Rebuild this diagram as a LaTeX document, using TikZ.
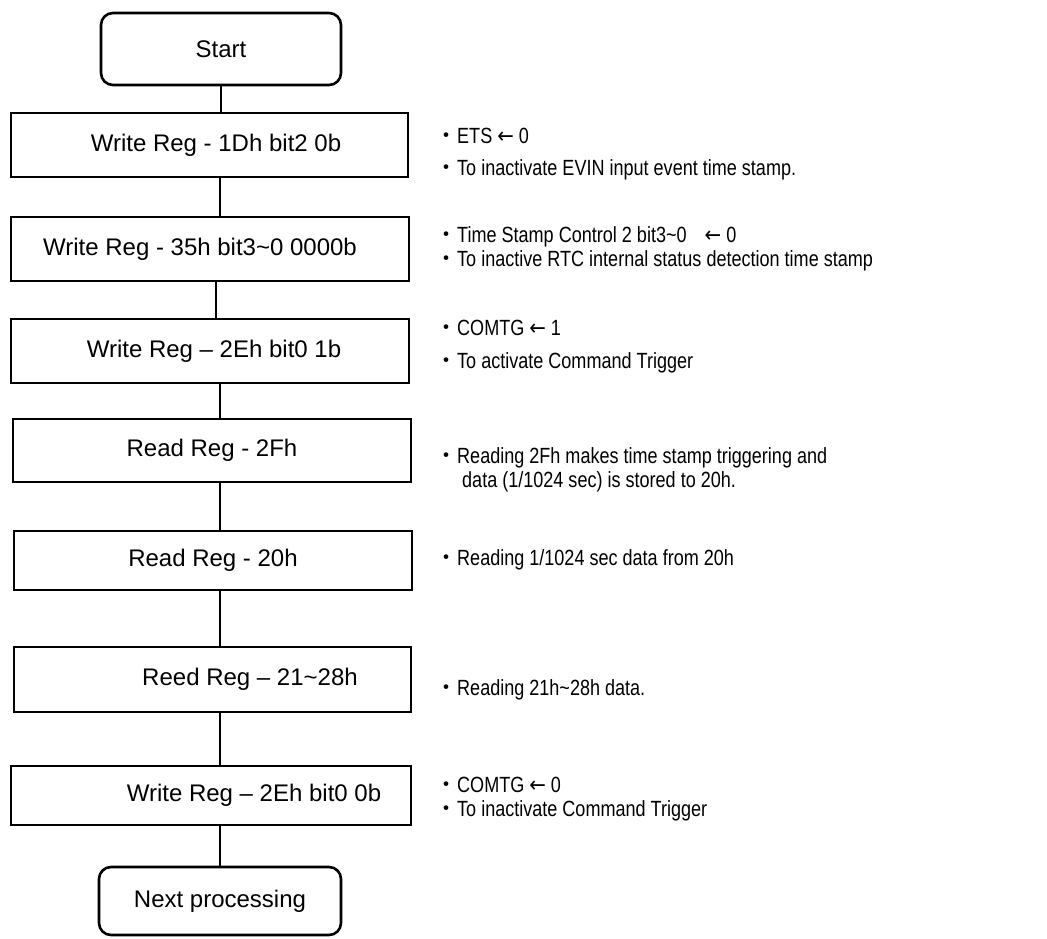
\documentclass[tikz,border=0pt]{standalone}
\usepackage{fontspec}
\setmainfont{Liberation Sans}
\newfontfamily\narrowfont[FakeStretch=0.82]{Liberation Sans}
\newfontfamily\cjkfont{Noto Sans CJK JP}
\newfontfamily\arrowfont[FakeStretch=0.9]{DejaVu Sans}
\newcommand{\bul}{{\cjkfont ・}}
\newcommand{\larr}{{\arrowfont ←}}
\begin{document}
\begin{tikzpicture}[x=1pt,y=-1pt,
  proc/.style={draw, line width=2.6pt, inner sep=0pt, fill=white,
    font=\fontsize{24}{28}\selectfont},
  term/.style={proc, rounded corners=12pt},
  note/.style={anchor=base west, inner sep=0pt,
    font=\narrowfont\fontsize{22}{26}\selectfont},
  link/.style={line width=1.8pt}]
\useasboundingbox (0,0) rectangle (1047,938);

% flow boxes
\node[term, minimum width=240pt, minimum height=72pt] (start) at (221,49) {Start};
\node[proc, minimum width=397pt, minimum height=64pt] (b1) at (209.5,145) {\hspace*{13pt}Write Reg - 1Dh bit2 0b};
\node[proc, minimum width=398pt, minimum height=64pt] (b2) at (210,249) {Write Reg - 35h bit3\textasciitilde0 0000b\hspace*{20pt}};
\node[proc, minimum width=398pt, minimum height=64pt] (b3) at (210,351) {\hspace*{8pt}Write Reg – 2Eh bit0 1b};
\node[proc, minimum width=398pt, minimum height=63pt] (b4) at (212,450.5) {Read Reg - 2Fh};
\node[proc, minimum width=398pt, minimum height=59pt] (b5) at (213,560.5) {Read Reg - 20h};
\node[proc, minimum width=397pt, minimum height=65pt] (b6) at (212.5,679.5) {\hspace*{75pt}Reed Reg – 21\textasciitilde28h};
\node[proc, minimum width=400pt, minimum height=59pt] (b7) at (211,795.5) {\hspace*{86pt}Write Reg – 2Eh bit0 0b};
\node[term, minimum width=242pt, minimum height=68pt] (finish) at (220,901) {Next processing};

% connectors
\draw[link] (start.south) -- (start.south |- b1.north);
\draw[link] ([xshift=10.5pt]b1.south) -- ([xshift=10.5pt]b1.south |- b2.north);
\draw[link] ([xshift=6pt]b2.south) -- ([xshift=6pt]b2.south |- b3.north);
\draw[link] ([xshift=10pt]b3.south) -- ([xshift=10pt]b3.south |- b4.north);
\draw[link] ([xshift=8pt]b4.south) -- ([xshift=8pt]b4.south |- b5.north);
\draw[link] ([xshift=7pt]b5.south) -- ([xshift=7pt]b5.south |- b6.north);
\draw[link] ([xshift=7.5pt]b6.south) -- ([xshift=7.5pt]b6.south |- b7.north);
\draw[link] (finish.north) -- (finish.north |- b7.south);

% notes
\node[note] (n1a) at (435,143) {\bul ETS \larr{} 0};
\node[note] (n1b) at (435,175) {\bul To inactivate EVIN input event time stamp.};
\node[note] (n2a) at (435,242) {\bul Time Stamp Control 2 bit3\textasciitilde0\hspace{18pt}\larr{} 0};
\node[note] (n2b) at (435,266) {\bul To inactive RTC internal status detection time stamp};
\node[note] (n3a) at (435,335) {\bul COMTG \larr{} 1};
\node[note] (n3b) at (435,368) {\bul To activate Command Trigger};
\node[note] (n4a) at (435,463) {\bul Reading 2Fh makes time stamp triggering and};
\node[note] (n4b) at (462,487) {data (1/1024 sec) is stored to 20h.};
\node[note] (n5) at (435,565) {\bul Reading 1/1024 sec data from 20h};
\node[note] (n6) at (435,695) {\bul Reading 21h\textasciitilde28h data.};
\node[note] (n7a) at (435,792) {\bul COMTG \larr{} 0};
\node[note] (n7b) at (435,816) {\bul To inactivate Command Trigger};
\end{tikzpicture}
\end{document}
